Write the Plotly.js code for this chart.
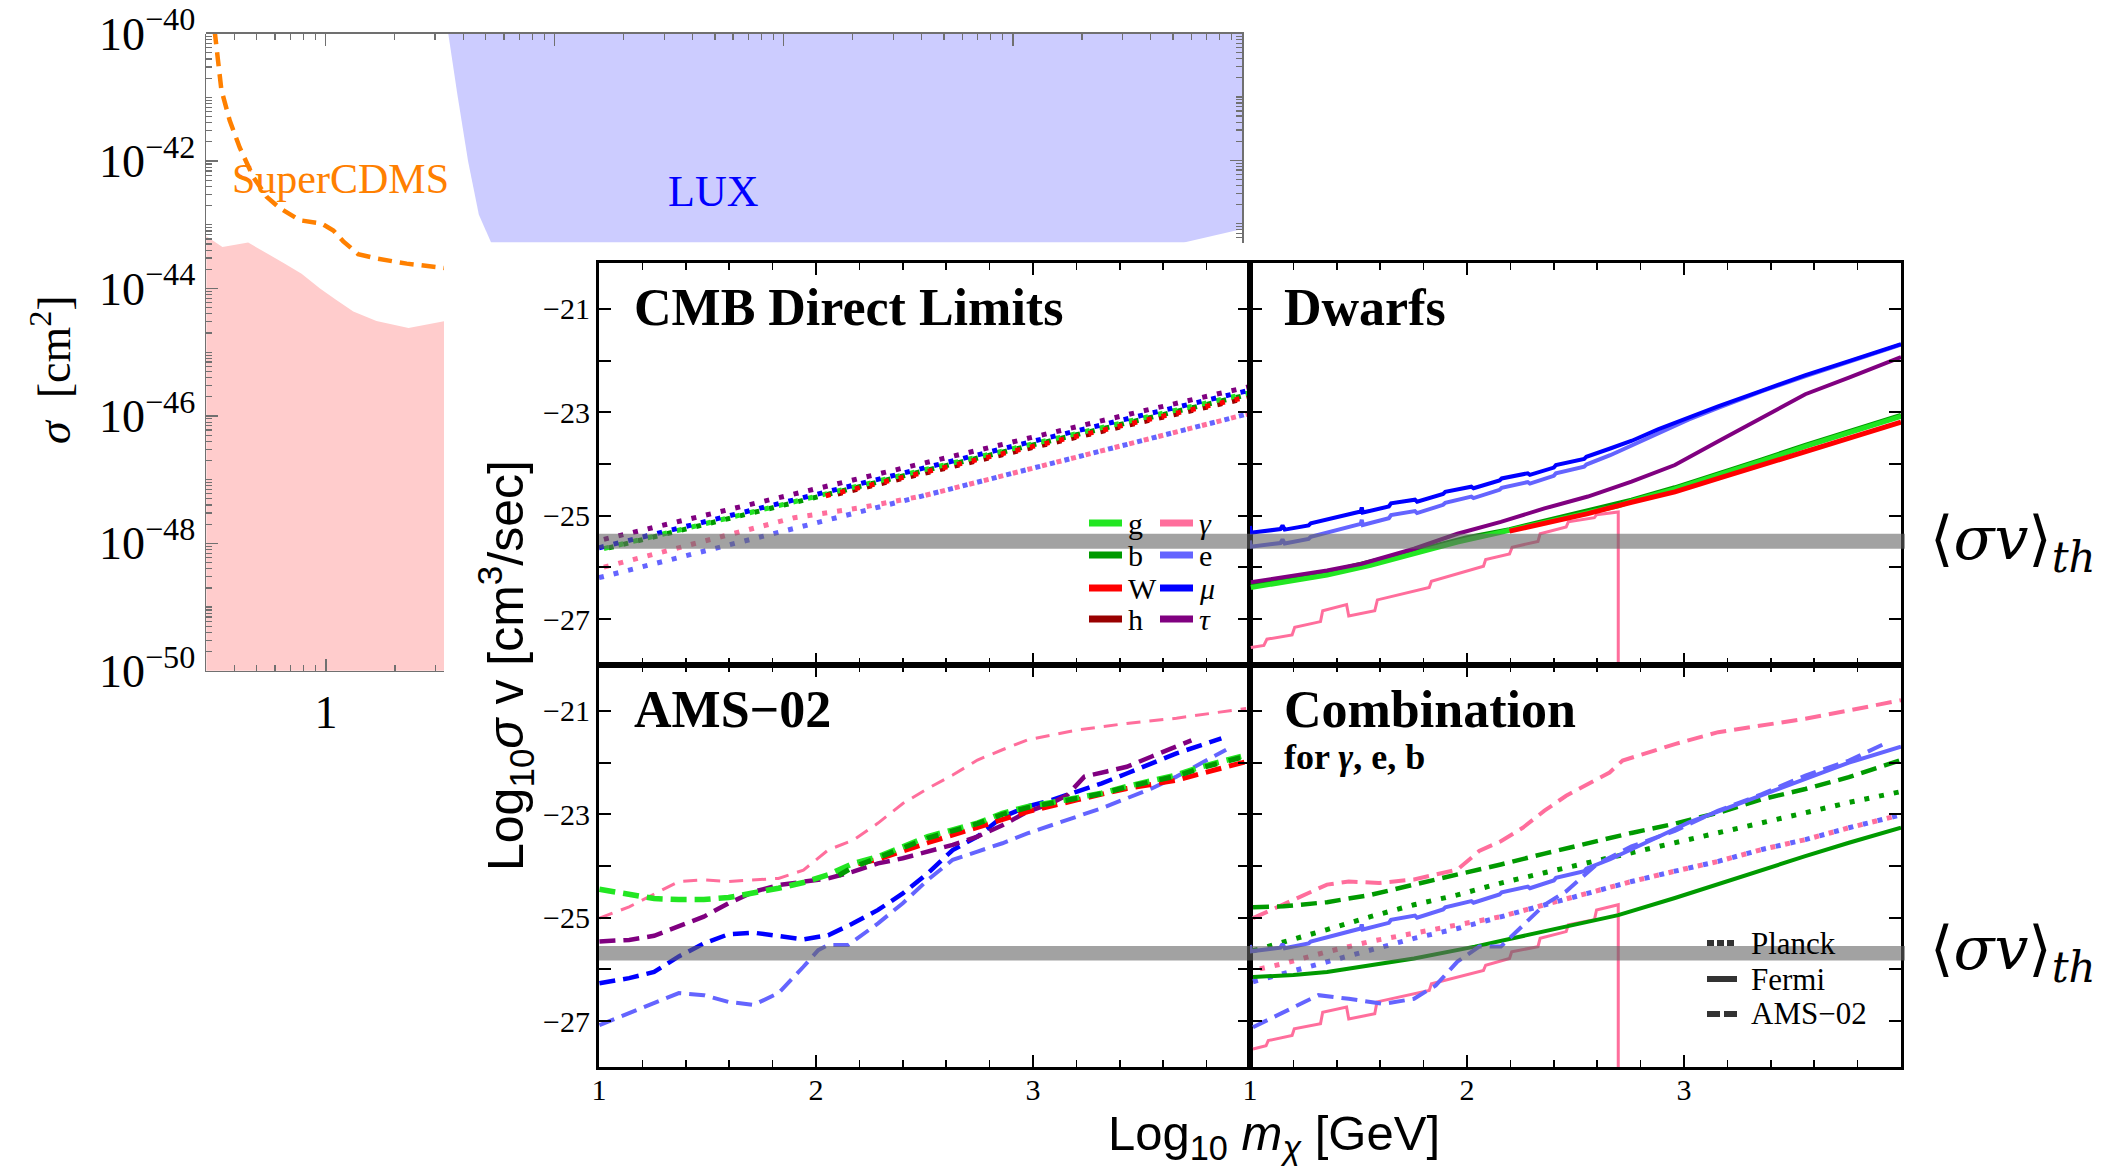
<!DOCTYPE html>
<html>
<head>
<meta charset="utf-8">
<script src="https://cdn.plot.ly/plotly-3.0.1.min.js"></script>
<style>
html,body{margin:0;padding:0;background:#ffffff;}
#chart{width:2110px;height:1166px;}
</style>
</head>
<body>
<div id="chart"></div>
<script>
// ================= DATA =================
// --- Direct detection panel (top-left), mass in GeV, log10(sigma / cm^2)
const ddPinkMass      = [0.301, 0.354, 0.458, 0.551, 0.662, 0.783, 0.942, 1.11, 1.316, 1.66, 2.29, 3.31];
const ddPinkLogSigma  = [-43.18, -43.35, -43.28, -43.44, -43.61, -43.77, -44.00, -44.18, -44.36, -44.51, -44.62, -44.51];
const cdmsMass        = [0.327, 0.339, 0.350, 0.381, 0.421, 0.482, 0.551, 0.63, 0.77, 0.957, 1.077, 1.19, 1.38, 1.66, 2.25, 3.31];
const cdmsLogSigma    = [-39.95, -40.39, -40.88, -41.37, -41.79, -42.25, -42.56, -42.74, -42.93, -42.98, -43.09, -43.26, -43.46, -43.53, -43.61, -43.68];
const luxMass         = [3.41, 3.75, 4.18, 4.66, 5.27, 5580, 9610, 10000, 10000, 3.41];
const luxLogSigma     = [-39.95, -40.95, -42.01, -42.86, -43.30, -43.30, -43.10, -43.08, -39.95, -39.95];

// --- CMB (Planck) panel: x = log10(m/GeV), y = log10(sigma v)
const cmbX      = [1, 1.5, 2, 2.5, 3, 3.5, 4];
const cmbTau    = [-25.48, -24.98, -24.47, -23.96, -23.47, -22.98, -22.50];
const cmbMu     = [-25.62, -25.10, -24.58, -24.06, -23.56, -23.06, -22.57];
const cmbG      = [-25.66, -25.14, -24.62, -24.11, -23.61, -23.11, -22.62];
const cmbB      = [-25.67, -25.15, -24.64, -24.13, -23.63, -23.14, -22.65];
const cmbE      = [-26.20, -25.67, -25.14, -24.61, -24.08, -23.55, -23.02];
const cmbWX     = [2, 2.5, 3, 3.5, 4];
const cmbW      = [-24.66, -24.15, -23.66, -23.17, -22.69];
const cmbHX     = [2.1, 2.5, 3, 3.5, 4];
const cmbH      = [-24.58, -24.17, -23.68, -23.19, -22.71];
const cmbGammaX = [1, 1.5, 1.9, 2.2, 2.5, 3, 3.5, 4];
const cmbGamma  = [-26.02, -25.48, -25.04, -24.85, -24.61, -24.08, -23.55, -23.02];

// --- Dwarfs (Fermi) panel
const dwLepX  = [1.0, 1.004, 1.14, 1.15, 1.16, 1.27, 1.28, 1.40, 1.51, 1.515, 1.52, 1.64, 1.65, 1.76, 1.77, 1.89, 1.90, 2.02, 2.03, 2.15, 2.16, 2.28, 2.29, 2.40, 2.41, 2.54, 2.55, 2.66, 2.76, 2.88, 3.02, 3.16, 3.36, 3.56, 3.76, 4.0];
const dwMu    = [-25.20, -25.33, -25.26, -25.19, -25.27, -25.19, -25.15, -25.03, -24.92, -24.84, -24.94, -24.82, -24.76, -24.69, -24.73, -24.58, -24.54, -24.44, -24.47, -24.32, -24.28, -24.18, -24.21, -24.07, -24.02, -23.90, -23.86, -23.70, -23.55, -23.33, -23.10, -22.88, -22.58, -22.28, -22.01, -21.68];
const dwE     = [-25.48, -25.60, -25.53, -25.46, -25.54, -25.45, -25.41, -25.28, -25.16, -25.08, -25.18, -25.05, -24.99, -24.91, -24.95, -24.79, -24.75, -24.63, -24.66, -24.50, -24.46, -24.35, -24.38, -24.23, -24.18, -24.05, -24.01, -23.83, -23.64, -23.40, -23.14, -22.91, -22.59, -22.30, -22.02, -21.69];
const dwTauX  = [1.004, 1.154, 1.355, 1.515, 1.756, 1.956, 2.156, 2.357, 2.557, 2.758, 2.958, 3.158, 3.359, 3.559, 3.760, 4.0];
const dwTau   = [-26.29, -26.19, -26.06, -25.93, -25.64, -25.35, -25.12, -24.86, -24.63, -24.34, -24.02, -23.56, -23.11, -22.65, -22.33, -21.93];
const dwGX    = [1.004, 1.154, 1.355, 1.555, 1.756, 1.956, 2.156, 2.357, 2.557, 2.697, 2.758, 2.958, 3.158, 3.359, 3.559, 3.760, 4.0];
const dwG     = [-26.39, -26.29, -26.15, -25.96, -25.74, -25.51, -25.32, -25.12, -24.94, -24.81, -24.72, -24.48, -24.22, -23.94, -23.66, -23.39, -23.08];
const dwBX    = [1.004, 1.355, 1.756, 1.996, 2.196, 2.357, 2.557, 2.758, 2.958, 3.158, 3.359, 3.559, 3.760, 4.0];
const dwB     = [-26.34, -26.10, -25.69, -25.43, -25.27, -25.11, -24.91, -24.70, -24.46, -24.20, -23.92, -23.64, -23.37, -23.06];
const dwWX    = [2.196, 2.357, 2.557, 2.758, 2.958, 3.158, 3.359, 3.559, 3.760, 4.0];
const dwW     = [-25.30, -25.15, -24.96, -24.74, -24.54, -24.28, -24.02, -23.76, -23.49, -23.19];
const dwGammaX = [1.004, 1.064, 1.078, 1.194, 1.206, 1.325, 1.335, 1.445, 1.455, 1.575, 1.587, 1.826, 1.836, 1.956, 2.076, 2.086, 2.196, 2.208, 2.327, 2.337, 2.457, 2.467, 2.587, 2.597, 2.697, 2.697];
const dwGamma  = [-27.55, -27.51, -27.39, -27.31, -27.16, -27.05, -26.84, -26.72, -26.94, -26.84, -26.63, -26.39, -26.27, -26.13, -25.98, -25.85, -25.74, -25.61, -25.50, -25.35, -25.22, -25.12, -25.04, -24.98, -24.93, -28.3];

// --- AMS-02 panel
const amsGammaX = [1.002, 1.139, 1.368, 1.483, 1.597, 1.735, 1.827, 1.942, 2.056, 2.171, 2.286, 2.400, 2.515, 2.630, 2.744, 2.859, 2.974, 3.203, 3.432, 3.661, 3.982];
const amsGamma  = [-25.01, -24.79, -24.30, -24.27, -24.30, -24.27, -24.24, -24.08, -23.69, -23.50, -23.17, -22.79, -22.50, -22.24, -21.95, -21.75, -21.56, -21.37, -21.24, -21.14, -20.95];
const amsGX     = [1.002, 1.139, 1.254, 1.368, 1.483, 1.597, 1.712, 1.827, 1.942, 2.056, 2.171, 2.286, 2.400, 2.515, 2.630, 2.744, 2.859, 2.974, 3.088, 3.203, 3.317, 3.432, 3.547, 3.661, 3.776, 3.959];
const amsG      = [-24.45, -24.56, -24.63, -24.65, -24.65, -24.61, -24.53, -24.43, -24.32, -24.17, -23.95, -23.82, -23.63, -23.43, -23.30, -23.17, -22.98, -22.85, -22.77, -22.69, -22.59, -22.46, -22.34, -22.24, -22.08, -21.88];
const amsBX     = [2.056, 2.171, 2.286, 2.400, 2.515, 2.630, 2.744, 2.859, 2.974, 3.088, 3.203, 3.317, 3.432, 3.547, 3.661, 3.776, 3.959];
const amsB      = [-24.30, -24.02, -23.84, -23.65, -23.46, -23.32, -23.18, -23.00, -22.87, -22.78, -22.70, -22.60, -22.47, -22.36, -22.26, -22.10, -21.90];
const amsWX     = [2.194, 2.286, 2.515, 2.744, 2.974, 3.203, 3.432, 3.661, 3.982];
const amsW      = [-23.96, -23.87, -23.55, -23.24, -22.95, -22.72, -22.50, -22.34, -21.98];
const amsTauX   = [1.002, 1.139, 1.254, 1.368, 1.483, 1.597, 1.712, 1.827, 1.942, 2.056, 2.171, 2.286, 2.400, 2.515, 2.630, 2.744, 2.859, 2.974, 3.088, 3.157, 3.237, 3.340, 3.432, 3.547, 3.661, 3.730];
const amsTau    = [-25.46, -25.43, -25.35, -25.17, -24.98, -24.72, -24.50, -24.37, -24.30, -24.24, -24.11, -23.95, -23.85, -23.72, -23.59, -23.43, -23.21, -22.95, -22.78, -22.63, -22.27, -22.17, -22.08, -21.88, -21.70, -21.57];
const amsMuX    = [1.002, 1.139, 1.254, 1.368, 1.483, 1.597, 1.712, 1.827, 1.942, 2.056, 2.171, 2.286, 2.400, 2.515, 2.630, 2.744, 2.859, 2.974, 3.088, 3.203, 3.317, 3.432, 3.547, 3.661, 3.776, 3.868];
const amsMu     = [-26.27, -26.17, -26.05, -25.75, -25.50, -25.32, -25.29, -25.35, -25.42, -25.34, -25.11, -24.85, -24.53, -24.14, -23.69, -23.43, -23.05, -22.85, -22.72, -22.56, -22.40, -22.21, -22.01, -21.82, -21.66, -21.53];
const amsEX     = [1.002, 1.139, 1.254, 1.368, 1.483, 1.597, 1.712, 1.827, 1.942, 2.010, 2.056, 2.148, 2.286, 2.400, 2.515, 2.630, 2.744, 2.859, 2.974, 3.088, 3.203, 3.317, 3.432, 3.547, 3.661, 3.776, 3.890];
const amsE      = [-27.08, -26.85, -26.66, -26.46, -26.50, -26.63, -26.69, -26.46, -25.95, -25.63, -25.53, -25.53, -25.11, -24.72, -24.27, -23.88, -23.72, -23.56, -23.37, -23.21, -23.05, -22.88, -22.69, -22.50, -22.27, -22.01, -21.75];

// --- Combination panel (gamma, e, b)
const combGammaAmsX = [1.014, 1.154, 1.355, 1.455, 1.595, 1.756, 1.856, 1.956, 2.056, 2.156, 2.257, 2.357, 2.457, 2.557, 2.657, 2.717, 2.858, 2.958, 3.158, 3.359, 3.559, 3.760, 4.0];
const combGammaAms  = [-25.01, -24.75, -24.36, -24.30, -24.33, -24.26, -24.17, -24.07, -23.71, -23.52, -23.26, -22.93, -22.64, -22.41, -22.19, -21.96, -21.77, -21.64, -21.41, -21.28, -21.15, -20.99, -20.79];
const combEAmsX     = [1.014, 1.154, 1.315, 1.455, 1.615, 1.756, 1.856, 1.956, 2.056, 2.156, 2.257, 2.357, 2.457, 2.597, 2.758, 2.958, 3.158, 3.359, 3.559, 3.760, 3.920];
const combEAms      = [-27.12, -26.83, -26.50, -26.57, -26.67, -26.57, -26.31, -25.85, -25.56, -25.56, -25.14, -24.75, -24.49, -23.97, -23.62, -23.32, -22.93, -22.61, -22.25, -21.96, -21.64];
const combGridX     = [1.014, 1.154, 1.355, 1.555, 1.756, 1.956, 2.156, 2.357, 2.557, 2.758, 2.958, 3.158, 3.359, 3.559, 3.760, 4.0];
const combBAms      = [-24.80, -24.78, -24.70, -24.56, -24.36, -24.17, -23.97, -23.76, -23.55, -23.36, -23.18, -22.97, -22.71, -22.51, -22.28, -21.95];
const combBPlanck   = [-25.64, -25.48, -25.23, -24.98, -24.75, -24.56, -24.33, -24.13, -23.94, -23.74, -23.55, -23.36, -23.16, -22.97, -22.77, -22.56];
const combEPlanck   = [-26.24, -26.08, -25.85, -25.63, -25.40, -25.21, -24.98, -24.75, -24.52, -24.30, -24.10, -23.91, -23.68, -23.49, -23.26, -23.01];
const combGammaPlanck = [-26.02, -25.89, -25.66, -25.46, -25.30, -25.14, -24.98, -24.75, -24.52, -24.30, -24.10, -23.91, -23.68, -23.49, -23.26, -23.01];
const combBFermiX   = [1.014, 1.2, 1.355, 1.555, 1.756, 2.036, 2.457, 2.697, 2.958, 3.158, 3.359, 3.559, 3.760, 4.0];
const combBFermi    = [-26.15, -26.11, -26.05, -25.92, -25.79, -25.56, -25.17, -24.95, -24.62, -24.35, -24.07, -23.81, -23.55, -23.26];
const combEFermi    = [-25.53, -25.65, -25.58, -25.51, -25.59, -25.50, -25.46, -25.33, -25.21, -25.13, -25.23, -25.10, -25.04, -24.96, -25.00, -24.84, -24.80, -24.68, -24.71, -24.55, -24.51, -24.40, -24.43, -24.28, -24.23, -24.10, -24.05, -23.87, -23.68, -23.44, -23.16, -22.94, -22.62, -22.32, -22.00, -21.69];
const combGammaFermiX = [1.014, 1.074, 1.084, 1.194, 1.204, 1.325, 1.335, 1.445, 1.455, 1.575, 1.585, 1.826, 1.836, 1.956, 2.076, 2.086, 2.196, 2.206, 2.327, 2.337, 2.457, 2.467, 2.587, 2.597, 2.697, 2.697];
const combGammaFermi  = [-27.54, -27.48, -27.38, -27.28, -27.15, -27.05, -26.83, -26.73, -26.96, -26.86, -26.63, -26.41, -26.28, -26.15, -26.02, -25.92, -25.79, -25.66, -25.56, -25.40, -25.27, -25.14, -25.04, -24.85, -24.75, -28.3];

// thermal band (per row)
const bandTop    = [-25.64, -25.35];
const bandBottom = [-25.83, -25.55];

// tick labels
const ddYTickExp   = [-50, -48, -46, -44, -42, -40];
const ddYTickText  = ['10<sup>−50</sup>', '10<sup>−48</sup>', '10<sup>−46</sup>', '10<sup>−44</sup>', '10<sup>−42</sup>', '10<sup>−40</sup>'];
const panelYTicks  = [-27, -25, -23, -21];
const panelYText   = ['−27', '−25', '−23', '−21'];
const panelYMinor  = [-26, -24, -22];
const panelXTicks  = [1, 2, 3];
const panelXText   = ['1', '2', '3'];

// channel names / colours
const chan = {
  g:   {name: 'g',          color: '#22e622'},
  b:   {name: 'b',          color: '#009a00'},
  W:   {name: 'W',          color: '#ff0000'},
  h:   {name: 'h',          color: '#990000'},
  gam: {name: '<i>γ</i>',   color: '#ff6e9c'},
  e:   {name: 'e',          color: '#6464ff'},
  mu:  {name: '<i>μ</i>',   color: '#0000ff'},
  tau: {name: '<i>τ</i>',   color: '#800080'}
};
const legendCols = [['g', 'b', 'W', 'h'], ['gam', 'e', 'mu', 'tau']];
const styleLegend = [['Planck', '7px,3px'], ['Fermi', 'solid'], ['AMS−02', '13px,4px']];

// ================= LAYOUT HELPERS =================
const W = 2110, H = 1166;
const px = v => v / W;
const py = v => 1 - v / H;
const pow10 = a => a.map(v => Math.pow(10, v));
const SERIF = 'Liberation Serif, Times New Roman, serif';
const SANS = 'Liberation Sans, Arial, sans-serif';

const traces = [];
function addLine(x, y, xa, ya, color, width, dash) {
  traces.push({type: 'scatter', mode: 'lines', x: x, y: y, xaxis: xa, yaxis: ya,
    line: {color: color, width: width, dash: dash || 'solid'},
    showlegend: false, hoverinfo: 'skip'});
}

// ---- top-left direct detection
traces.push({type: 'scatter', mode: 'lines', xaxis: 'x', yaxis: 'y',
  x: ddPinkMass.concat([ddPinkMass[ddPinkMass.length - 1], ddPinkMass[0]]),
  y: pow10(ddPinkLogSigma.concat([-50.5, -50.5])),
  fill: 'toself', fillcolor: 'rgb(255,204,204)', line: {width: 0}, showlegend: false, hoverinfo: 'skip'});
addLine(cdmsMass, pow10(cdmsLogSigma), 'x', 'y', '#ff8000', 4.5, '14px,8px');
traces.push({type: 'scatter', mode: 'lines', xaxis: 'x2', yaxis: 'y2',
  x: luxMass, y: pow10(luxLogSigma),
  fill: 'toself', fillcolor: 'rgb(204,204,255)', line: {width: 0}, showlegend: false, hoverinfo: 'skip'});

// ---- CMB panel (dotted, staggered dots)
const DOT = ['5px,10px', '0px,5px,5px,5px', '0px,10px,5px,0px'];
addLine(cmbHX, cmbH, 'x3', 'y3', chan.h.color, 5, DOT[0]);
addLine(cmbGammaX, cmbGamma, 'x3', 'y3', chan.gam.color, 5, DOT[1]);
addLine(cmbX, cmbE, 'x3', 'y3', chan.e.color, 5, DOT[0]);
addLine(cmbX, cmbB, 'x3', 'y3', chan.b.color, 5, DOT[2]);
addLine(cmbX, cmbG, 'x3', 'y3', chan.g.color, 5, DOT[1]);
addLine(cmbWX, cmbW, 'x3', 'y3', chan.W.color, 5, DOT[2]);
addLine(cmbX, cmbMu, 'x3', 'y3', chan.mu.color, 5, DOT[0]);
addLine(cmbX, cmbTau, 'x3', 'y3', chan.tau.color, 5, DOT[1]);

// ---- Dwarfs panel (solid)
addLine(dwGammaX, dwGamma, 'x4', 'y4', chan.gam.color, 3);
addLine(dwBX, dwB, 'x4', 'y4', chan.b.color, 5);
addLine(dwGX, dwG, 'x4', 'y4', chan.g.color, 5);
addLine(dwTauX, dwTau, 'x4', 'y4', chan.tau.color, 4);
addLine(dwWX, dwW, 'x4', 'y4', chan.W.color, 5);
addLine(dwLepX, dwE, 'x4', 'y4', chan.e.color, 4);
addLine(dwLepX, dwMu, 'x4', 'y4', chan.mu.color, 4);

// ---- AMS-02 panel (dashed)
const DASH = '16px,8px';
addLine(amsGammaX, amsGamma, 'x5', 'y5', chan.gam.color, 3, '14px,9px');
addLine(amsEX, amsE, 'x5', 'y5', chan.e.color, 4, DASH);
addLine(amsMuX, amsMu, 'x5', 'y5', chan.mu.color, 4.5, DASH);
addLine(amsTauX, amsTau, 'x5', 'y5', chan.tau.color, 4.5, DASH);
addLine(amsWX, amsW, 'x5', 'y5', chan.W.color, 5, DASH);
addLine(amsGX, amsG, 'x5', 'y5', chan.g.color, 5.5, DASH);
addLine(amsBX, amsB, 'x5', 'y5', chan.b.color, 5, '0px,12px,12px,0px');

// ---- Combination panel
addLine(combGammaFermiX, combGammaFermi, 'x6', 'y6', chan.gam.color, 3);
addLine(combGammaAmsX, combGammaAms, 'x6', 'y6', chan.gam.color, 4, DASH);
addLine(combGridX, combGammaPlanck, 'x6', 'y6', chan.gam.color, 5, '0px,7px,5px,3px');
addLine(combGridX, combEPlanck, 'x6', 'y6', chan.e.color, 5, '5px,10px');
addLine(combGridX, combBPlanck, 'x6', 'y6', chan.b.color, 5, '5px,10px');
addLine(combGridX, combBAms, 'x6', 'y6', chan.b.color, 4.5, DASH);
addLine(combBFermiX, combBFermi, 'x6', 'y6', chan.b.color, 4);
addLine(dwLepX, combEFermi, 'x6', 'y6', chan.e.color, 4);
addLine(combEAmsX, combEAms, 'x6', 'y6', chan.e.color, 4, DASH);

// ================= AXES =================
function minorLog(lo, hi) {
  const out = [];
  for (let n = lo; n < hi; n++) for (let k = 2; k <= 9; k++) out.push(k * Math.pow(10, n));
  return out;
}
const GRAY = '#707070';
const ddCommon = {type: 'log', showgrid: false, zeroline: false, showline: true, linecolor: GRAY, linewidth: 1.5,
  ticks: 'inside', tickcolor: GRAY, tickwidth: 1.2, ticklen: 12,
  tickfont: {family: SERIF, size: 46, color: '#000'}};

const panelFrame = {showgrid: false, zeroline: false, showline: true, linecolor: '#000', linewidth: 3,
  mirror: 'allticks', ticks: 'inside', tickcolor: '#000', tickwidth: 2, ticklen: 12,
  tickfont: {family: SERIF, size: 30, color: '#000'}};
function pX(dom, anchor, labels) {
  return Object.assign({}, panelFrame, {domain: dom, anchor: anchor, range: [1, 4], tickmode: 'array',
    tickvals: panelXTicks, ticktext: panelXText, showticklabels: labels, ticklabelstandoff: -6,
    minor: {tickmode: 'linear', tick0: 1, dtick: 0.2, ticklen: 7, tickwidth: 1.5, tickcolor: '#000', ticks: 'inside'}});
}
function pY(dom, anchor, labels) {
  return Object.assign({}, panelFrame, {domain: dom, anchor: anchor, range: [-27.89, -20.11], tickmode: 'array',
    tickvals: panelYTicks, ticktext: panelYText, showticklabels: labels,
    minor: {tickmode: 'array', tickvals: panelYMinor, ticklen: 12, tickwidth: 2, tickcolor: '#000', ticks: 'inside'}});
}
const xL = [px(599), px(1250)], xR = [px(1250), px(1901)];
const yT = [py(665), py(263)], yB = [py(1067), py(665)];

const annFont = (size, family, color) => ({family: family || SERIF, size: size, color: color || '#000'});
const annotations = [
  {x: px(51), y: py(370), text: '<i>σ</i>  [cm<sup>2</sup>]', textangle: -90, font: annFont(46)},
  {x: px(340), y: py(179), text: 'SuperCDMS', font: annFont(42, SERIF, '#ff8000')},
  {x: px(713), y: py(191), text: 'LUX', font: annFont(44, SERIF, '#0000ff')},
  {x: px(632), y: py(308), xanchor: 'left', text: '<b>CMB Direct Limits</b>', font: annFont(52)},
  {x: px(1282), y: py(308), xanchor: 'left', text: '<b>Dwarfs</b>', font: annFont(52)},
  {x: px(632), y: py(709), xanchor: 'left', text: '<b>AMS−02</b>', font: annFont(52)},
  {x: px(1282), y: py(709), xanchor: 'left', text: '<b>Combination</b>', font: annFont(52)},
  {x: px(1282), y: py(757), xanchor: 'left', text: '<b>for <i>γ</i>, e, b</b>', font: annFont(36)},
  {x: px(2013), y: py(542), text: '⟨<i>σv</i>⟩<sub><i>th</i></sub>', font: annFont(60, 'DejaVu Serif, serif')},
  {x: px(2013), y: py(952), text: '⟨<i>σv</i>⟩<sub><i>th</i></sub>', font: annFont(60, 'DejaVu Serif, serif')},
  {x: px(505), y: py(666), text: 'Log<sub>10</sub><i>σ</i> v [cm<sup>3</sup>/sec]', textangle: -90, font: annFont(50, SANS)},
  {x: px(1274), y: py(1136), text: 'Log<sub>10</sub> <i>m</i><sub><i>χ</i></sub> [GeV]', font: annFont(49, SANS)}
];

const shapes = [
  {type: 'rect', xref: 'paper', yref: 'y3', x0: px(599), x1: px(1905), y0: bandTop[0], y1: bandTop[1],
   layer: 'above', fillcolor: 'rgb(100,100,100)', opacity: 0.6, line: {width: 0}},
  {type: 'rect', xref: 'paper', yref: 'y5', x0: px(599), x1: px(1905), y0: bandBottom[0], y1: bandBottom[1],
   layer: 'above', fillcolor: 'rgb(100,100,100)', opacity: 0.6, line: {width: 0}}
];

// ---- legend keys (CMB panel, two columns) and line-style key (Combination panel)
const legRowsY = [523, 555, 588, 619];
const legColX = [[1089, 1122, 1126], [1160, 1193, 1197]];
legendCols.forEach(function (col, c) {
  col.forEach(function (k, r) {
    shapes.push({type: 'line', xref: 'paper', yref: 'paper', x0: px(legColX[c][0]), x1: px(legColX[c][1]),
      y0: py(legRowsY[r]), y1: py(legRowsY[r]), line: {color: chan[k].color, width: 7}, layer: 'above'});
    annotations.push({x: px(legColX[c][2]), y: py(legRowsY[r]), xanchor: 'left', text: chan[k].name, font: annFont(30)});
  });
});
const styleRowsY = [943, 979, 1014];
styleLegend.forEach(function (s, r) {
  shapes.push({type: 'line', xref: 'paper', yref: 'paper', x0: px(1707), x1: px(1737),
    y0: py(styleRowsY[r]), y1: py(styleRowsY[r]), line: {color: '#333333', width: 6, dash: s[1]}, layer: 'above'});
  annotations.push({x: px(1749), y: py(styleRowsY[r]), xanchor: 'left', text: s[0], font: annFont(31)});
});

const allAnn = annotations.map(a => Object.assign({xref: 'paper', yref: 'paper', showarrow: false, xanchor: 'center', yanchor: 'middle'}, a));

const layout = {
  width: W, height: H, margin: {l: 0, r: 0, t: 0, b: 0},
  paper_bgcolor: '#ffffff', plot_bgcolor: 'rgba(0,0,0,0)',
  showlegend: false,
  xaxis: Object.assign({}, ddCommon, {domain: [px(206), px(444)], anchor: 'y',
    range: [Math.log10(0.3), Math.log10(3.27)], tickmode: 'array', tickvals: [1], ticktext: ['1'],
    minor: {tickmode: 'array', tickvals: [0.4, 0.5, 0.6, 0.7, 0.8, 0.9, 2, 3], ticklen: 6, tickcolor: GRAY, ticks: 'inside'}}),
  yaxis: Object.assign({}, ddCommon, {domain: [py(670.8), py(33.6)], anchor: 'x',
    range: [-50, -40], tickmode: 'array', tickvals: pow10(ddYTickExp), ticktext: ddYTickText,
    minor: {tickmode: 'array', tickvals: minorLog(-50, -40).concat(pow10([-49, -47, -45, -43, -41])), ticklen: 6, tickcolor: GRAY, ticks: 'inside'}}),
  xaxis2: Object.assign({}, ddCommon, {domain: [px(206), px(1242)], anchor: 'y2', side: 'top',
    range: [Math.log10(0.3), 4], tickmode: 'array', tickvals: [1, 10, 100, 1000], showticklabels: false,
    minor: {tickmode: 'array', tickvals: minorLog(-1, 4), ticklen: 6, tickcolor: GRAY, ticks: 'inside'}}),
  yaxis2: Object.assign({}, ddCommon, {domain: [py(242.6), py(33.6)], anchor: 'x2', side: 'right',
    range: [-43.3, -40], tickmode: 'array', tickvals: pow10([-42, -40]), showticklabels: false,
    minor: {tickmode: 'array', tickvals: minorLog(-44, -40).concat(pow10([-43, -41])), ticklen: 6, tickcolor: GRAY, ticks: 'inside'}}),
  xaxis3: pX(xL, 'y3', false), yaxis3: pY(yT, 'x3', true),
  xaxis4: pX(xR, 'y4', false), yaxis4: pY(yT, 'x4', false),
  xaxis5: pX(xL, 'y5', true),  yaxis5: pY(yB, 'x5', true),
  xaxis6: pX(xR, 'y6', true),  yaxis6: pY(yB, 'x6', false),
  annotations: allAnn,
  shapes: shapes
};

Plotly.newPlot('chart', traces, layout, {staticPlot: true, displayModeBar: false});
</script>
</body>
</html>
